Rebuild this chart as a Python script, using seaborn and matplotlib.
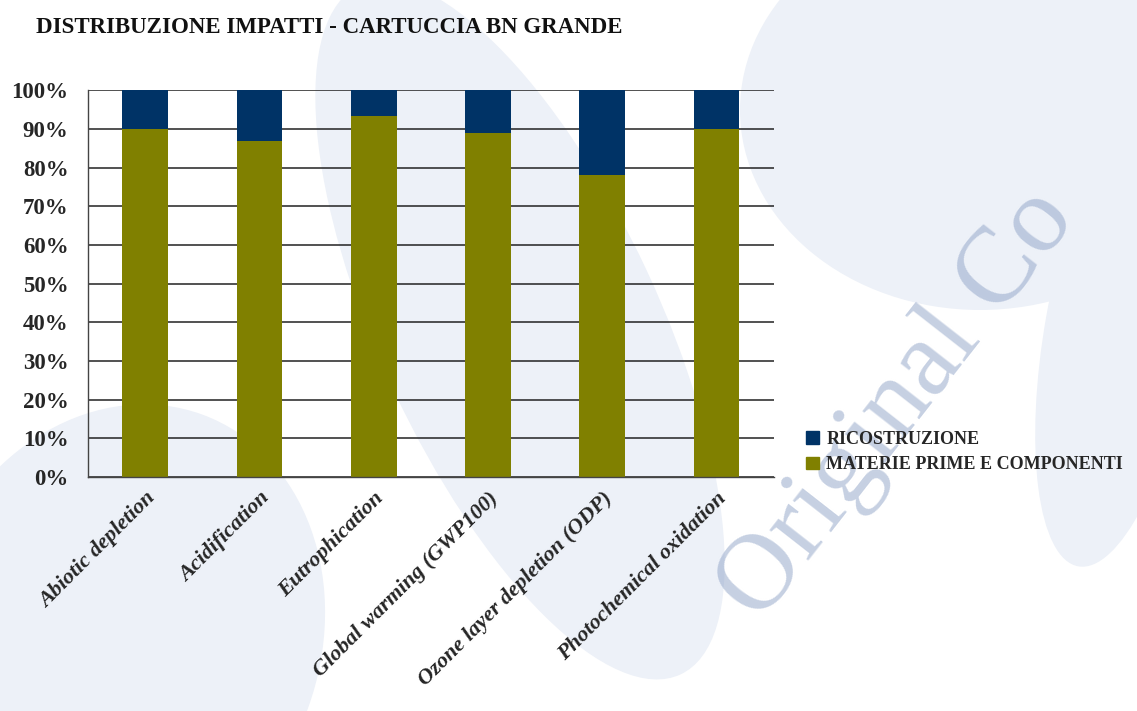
import matplotlib
matplotlib.use("Agg")
import matplotlib.pyplot as plt
from matplotlib.patches import Ellipse, Patch
from matplotlib.ticker import FuncFormatter
import seaborn as sns
import pandas as pd

# Data (percent of total impact)
categories = ["Abiotic depletion", "Acidification", "Eutrophication",
              "Global warming (GWP100)", "Ozone layer depletion (ODP)",
              "Photochemical oxidation"]
materie_prime = [90.0, 87.0, 93.3, 89.0, 78.0, 90.0]
ricostruzione = [10.0, 13.0, 6.7, 11.0, 22.0, 10.0]

NAVY = "#003366"
OLIVE = "#808000"

sns.set_theme(style="white")
plt.rcParams["font.family"] = ["Liberation Serif", "DejaVu Serif"]

df = pd.DataFrame({"categoria": categories,
                   "materie": materie_prime,
                   "ricostruzione": ricostruzione})
df["totale"] = df["materie"] + df["ricostruzione"]

fig = plt.figure(figsize=(11.37, 7.11), dpi=100)
fig.patch.set_facecolor("white")

# faint background watermark shapes
bg = fig.add_axes([0, 0, 1, 1], zorder=0)
bg.set_xlim(0, 1137)
bg.set_ylim(711, 0)
bg.axis("off")
for (cx, cy, w, h, ang) in [(120, 640, 400, 480, 20), (520, 330, 280, 760, -25),
                            (980, 110, 480, 400, 0), (1120, 330, 150, 480, 10)]:
    bg.add_patch(Ellipse((cx, cy), w, h, angle=ang, color="#edf1f8", lw=0))

ax = fig.add_axes([0.0774, 0.329, 0.603, 0.544], zorder=1)
ax.patch.set_alpha(0)

sns.barplot(data=df, x="categoria", y="totale", color=NAVY, width=0.4,
            saturation=1, ax=ax, linewidth=0)
sns.barplot(data=df, x="categoria", y="materie", color=OLIVE, width=0.4,
            saturation=1, ax=ax, linewidth=0)

ax.set_ylim(0, 100)
ax.set_xlim(-0.5, len(categories) - 0.5)
ax.set_yticks(range(0, 101, 10))
ax.yaxis.set_major_formatter(FuncFormatter(lambda v, p: f"{int(v)}%"))
ax.yaxis.grid(True, color="#222222", lw=1.1)
ax.set_axisbelow(True)
ax.set_xlabel("")
ax.set_ylabel("")

for s in ["top", "right"]:
    ax.spines[s].set_visible(False)
for s in ["left", "bottom"]:
    ax.spines[s].set_color("#444444")
    ax.spines[s].set_linewidth(1.0)

ax.set_xticks([i + 0.5 for i in range(-1, len(categories))], minor=True)
ax.tick_params(axis="x", which="minor", length=6, color="#444444", width=1)
ax.tick_params(axis="x", which="major", length=0, pad=8)
ax.tick_params(axis="y", length=0, pad=14)

for lab in ax.get_yticklabels():
    lab.set_fontsize(16.5)
    lab.set_fontweight("bold")

ax.set_xticks(range(len(categories)))
ax.set_xticklabels(categories, rotation=45, ha="right", rotation_mode="anchor",
                   fontsize=16, fontweight="bold", style="italic")

fig.text(0.032, 0.962, "DISTRIBUZIONE IMPATTI - CARTUCCIA BN GRANDE",
         fontsize=16.5, fontweight="bold", color="#111111", va="center")

handles = [Patch(color=NAVY, label="RICOSTRUZIONE"),
           Patch(color=OLIVE, label="MATERIE PRIME E COMPONENTI")]
fig.legend(handles=handles, loc="center left", bbox_to_anchor=(0.695, 0.364),
           frameon=False, handlelength=0.7, handleheight=0.7,
           handletextpad=0.4, labelspacing=0.45,
           prop={"family": "Liberation Serif", "weight": "bold", "size": 13})

# watermark text over the chart (kept inside the figure)
fig.text(0.79, 0.43, "Original Co", fontsize=78, rotation=52, color="#8ea2c6",
         alpha=0.5, ha="center", va="center", zorder=5)

fig.savefig("out.png", dpi=100, facecolor="white")
